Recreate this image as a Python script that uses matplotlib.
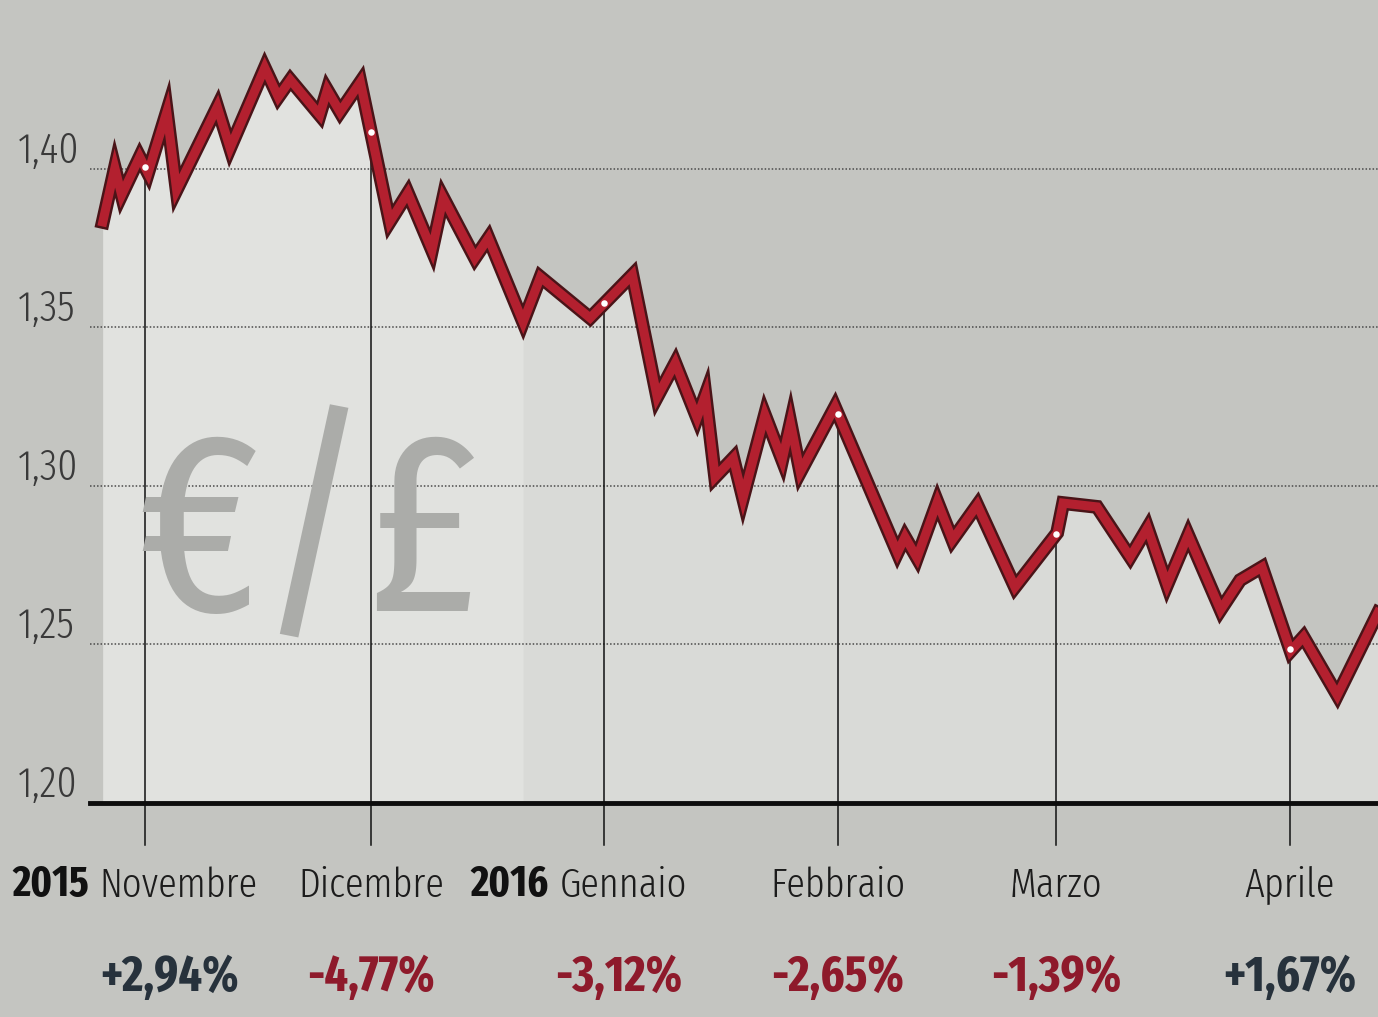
import numpy as np
import matplotlib
matplotlib.use('Agg')
import matplotlib.pyplot as plt
import matplotlib.patheffects as pe
import matplotlib.transforms as mtransforms

# EUR/GBP, days counted from 1 Nov 2015
days = [-5.6, -4.0, -3.1, -0.7, 0.4, 2.9, 4.2, 9.6, 11.3, 15.9, 17.7, 19.3,
        23.2, 24.2, 25.9, 28.6, 32.5, 34.9, 38.1, 39.6, 43.8, 45.6, 50.2, 52.5,
        59.1, 64.7, 68.0, 70.4, 73.3, 74.4, 75.7, 78.1, 79.4, 82.3, 84.6, 85.7,
        87.0, 91.6, 99.9, 100.9, 102.5, 105.2, 107.2, 110.5, 115.5, 121.1, 121.9,
        126.4, 130.8, 133.1, 135.7, 138.5, 142.8, 145.4, 148.3, 152.1, 153.8,
        158.3, 163.7]
rate = [1.3833, 1.4003, 1.3918, 1.4038, 1.3987, 1.4180, 1.3934, 1.4196, 1.4066,
        1.4319, 1.4227, 1.4281, 1.4170, 1.4249, 1.4180, 1.4274, 1.3833, 1.3924,
        1.3744, 1.3909, 1.3719, 1.3782, 1.3517, 1.3659, 1.3530, 1.3666, 1.3281,
        1.3388, 1.3215, 1.3287, 1.3028, 1.3088, 1.2962, 1.3224, 1.3082, 1.3199,
        1.3044, 1.3249, 1.2789, 1.2839, 1.2773, 1.2950, 1.2830, 1.2940, 1.2681,
        1.2852, 1.2946, 1.2934, 1.2776, 1.2868, 1.2688, 1.2845, 1.2609, 1.2703,
        1.2744, 1.2479, 1.2524, 1.2340, 1.2600]

months = ['Novembre', 'Dicembre', 'Gennaio', 'Febbraio', 'Marzo', 'Aprile']
month_start = [0, 30, 61, 92, 121, 152]
changes = ['+2,94%', '-4,77%', '-3,12%', '-2,65%', '-1,39%', '+1,67%']
years = {'Novembre': '2015', 'Gennaio': '2016'}
yticks = [1.20, 1.25, 1.30, 1.35, 1.40]

font = ['Fira Sans Extra Condensed', 'Barlow Condensed', 'Liberation Sans', 'DejaVu Sans']
plt.rcParams['font.family'] = font

bg = '#c4c5c1'
fig = plt.figure(figsize=(13.78, 10.17), dpi=100, facecolor=bg)
ax = fig.add_axes([90 / 1378, 1 - 803 / 1017, 1288 / 1378, 803 / 1017])
ax.set_xlim(-7.3, 163.7)
ax.set_ylim(1.20, 1.4533)
ax.set_axis_off()

d = np.array(days)
r = np.array(rate)

# lighter area under the curve
ax.fill_between(d, r, 1.20, color='#d9dad7', lw=0, zorder=1)
ax.fill_between(d, r, 1.20, where=d <= 50.2, color='#e1e2df', lw=0, zorder=1)

# watermark
fig.text(0.224, 0.466, '€/£', fontsize=185, fontweight=400, color='#abacA9',
         ha='center', va='center', zorder=2)

# dotted gridlines
for v in yticks[1:]:
    ax.axhline(v, color='#4a4a4a', lw=1.1, ls=(0, (1, 1.3)), zorder=3)

# month markers
vals_at_month = np.interp(month_start, d, r)
for m, v in zip(month_start, vals_at_month):
    ax.plot([m, m], [1.1868, v], color='#111111', lw=1.1, zorder=4, clip_on=False)

ax.plot(d, r, color='#b3202f', lw=6.5, solid_joinstyle='miter', zorder=5,
        path_effects=[pe.Stroke(linewidth=10, foreground='#4a1418'), pe.Normal()])
ax.scatter(month_start, vals_at_month, s=22, color='white', zorder=6, lw=0)

ax.axhline(1.20, color='#0d0d0d', lw=3.5, zorder=7, clip_on=False)

# y labels
ytr = mtransforms.blended_transform_factory(fig.transFigure, ax.transData)
for v in yticks:
    ax.text(18 / 1378, v + 0.002, f'{v:.2f}'.replace('.', ','), transform=ytr,
            fontsize=31, fontweight=300, color='#3a3a3a', ha='left', va='baseline')

# x labels
xtr = mtransforms.blended_transform_factory(ax.transData, fig.transFigure)
pct_shift = {'Novembre': 3.3, 'Gennaio': 1.9}
for name, m, ch in zip(months, month_start, changes):
    if name in years:
        # year in bold, month name starts right after it
        ax.text(m - 7.4, 1 - 885 / 1017, years[name], transform=xtr,
                fontsize=31, fontweight='bold', color='#111111',
                ha='right', va='center')
        ax.text(m - 6.0, 1 - 885 / 1017, name, transform=xtr, fontsize=30,
                fontweight=300, color='#1c1c1c', ha='left', va='center')
    else:
        ax.text(m, 1 - 885 / 1017, name, transform=xtr, fontsize=30,
                fontweight=300, color='#1c1c1c', ha='center', va='center')
    col = '#27323c' if ch.startswith('+') else '#8e1a2b'
    ax.text(m + pct_shift.get(name, 0), 1 - 978 / 1017, ch, transform=xtr,
            fontsize=36, fontweight='bold', color=col, ha='center', va='center')

fig.savefig('out.png', dpi=100, facecolor=bg)
